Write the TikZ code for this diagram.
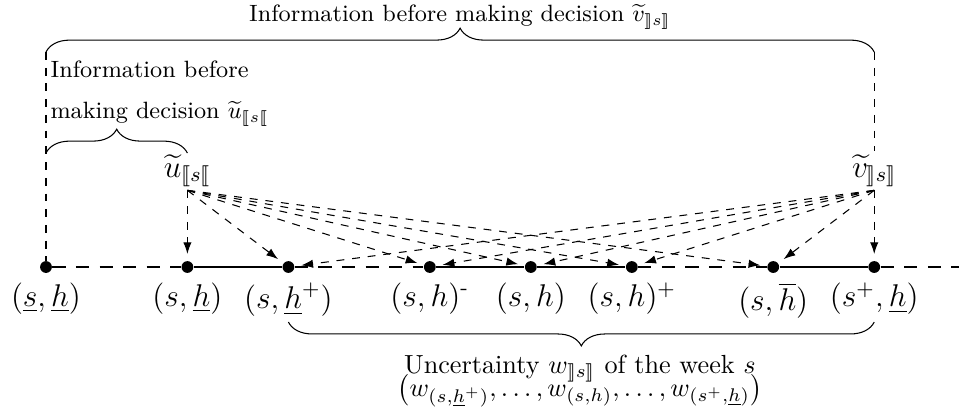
\documentclass[tikz,border=0pt]{standalone}
\usepackage{amsmath}
\usepackage{stmaryrd}
\usepackage{tikz}
\usetikzlibrary{arrows.meta, decorations.pathreplacing, calc}
\tikzset{
  % Time points on the axis
  stagept/.style={circle, fill, inner sep=0pt, minimum size=4.5pt},
  % Axis segments
  known/.style={thick},
  unknown/.style={thick, dash pattern=on 5pt off 4pt},
  % Information arrows
  infoflow/.style={-{Latex[length=4.5pt,width=3.2pt]}, dashed, shorten >=2.5pt},
  infoline/.style={dashed},
  % Braces
  bracket/.style={decorate, decoration={brace, amplitude=0.32cm}},
  bracketdown/.style={decorate, decoration={brace, mirror, amplitude=0.32cm}},
  % Labels
  decision/.style={font=\large, inner sep=1pt, anchor=base},
  bracelabel/.style={font=\small, inner sep=0pt},
}

\begin{document}
\begin{tikzpicture}[every label/.style={font=\large}]
  \useasboundingbox (-0.617,-1.892) rectangle (12.248,3.582);

  % Time points
  \node[stagept, label=below:{$(\underline{s},\underline{h})$}] (first) at (0,0) {};
  \node[stagept, label=below:{$(s,\underline{h})$}] (hlow) at (1.897,0) {};
  \node[stagept, label=below:{$(s,\underline{h}^+)$}] (hup) at (3.252,0) {};
  \node[stagept, label=below:{$(s,h)^{\text{-}}$}] (hminus) at (5.149,0) {};
  \node[stagept, label=below:{$(s,h)$}] (hcur) at (6.504,0) {};
  \node[stagept, label=below:{$(s,h)^+$}] (hplus) at (7.859,0) {};
  \node[stagept, label=below:{$(s,\overline{h})$}] (hbar) at (9.756,0) {};
  \node[stagept, label=below:{$(s^+,\underline{h})$}] (snext) at (11.111,0) {};
  \coordinate (axisend) at (12.248,0);

  % Axis
  \draw[unknown] (first) -- (hlow);
  \draw[known] (hlow) -- (hup);
  \draw[unknown] (hup) -- (hminus);
  \draw[known] (hminus) -- (hcur) -- (hplus);
  \draw[unknown] (hplus) -- (hbar);
  \draw[known] (hbar) -- (snext);
  \draw[unknown] (snext) -- (axisend);

  % Decisions
  \node[decision] (udec) at (1.897,1.207) {$\widetilde{u}_{\llbracket s\llbracket}$};
  \node[decision] (vdec) at (11.111,1.207) {$\widetilde{v}_{\rrbracket s\rrbracket}$};

  \foreach \t in {hlow, hup, hminus, hcur, hplus, hbar}
    \draw[infoflow] (udec.south) -- (\t);
  \foreach \t in {hup, hminus, hcur, hplus, hbar, snext}
    \draw[infoflow] (vdec.south) -- (\t);

  % Information sets
  \coordinate (topL) at (0,2.884);
  \coordinate (topR) at (11.111,2.884);
  \coordinate (lowL) at (0,1.529);
  \coordinate (lowR) at (1.897,1.529);
  \coordinate (botL) at (3.252,-0.738);
  \coordinate (botR) at (11.111,-0.738);

  \draw[bracket] (topL) -- (topR);
  \draw[bracket] (lowL) -- (lowR);
  \draw[bracketdown] (botL) -- (botR);
  \draw[infoline] (topL) -- (first);
  \draw[infoline] (topR) -- (vdec.north);

  \node[bracelabel, anchor=base] (vinfo) at (5.556,3.287)
    {Information before making decision $\widetilde{v}_{\rrbracket s\rrbracket}$};
  \node[bracelabel, anchor=north west, align=left] (uinfo) at (0.054,2.769)
    {Information before\\[4.6pt] making decision $\widetilde{u}_{\llbracket s\llbracket}$};
  \node[anchor=north, align=center, inner sep=0pt] (wunc) at (7.163,-1.17)
    {Uncertainty $w_{\rrbracket s\rrbracket}$ of the week $s$\\[-4.2pt]
     $\big(w_{(s,\underline{h}^+)},\dots,w_{(s,h)},\dots,w_{(s^+,\underline{h})}\big)$};

\end{tikzpicture}
\end{document}
